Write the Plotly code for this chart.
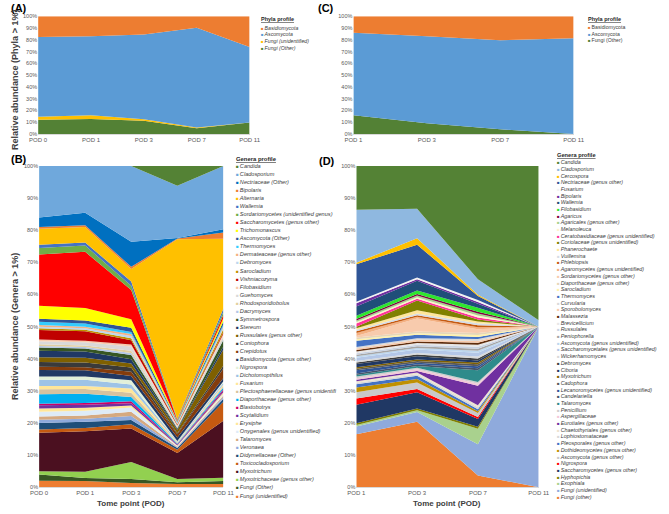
import plotly.graph_objects as go

W, H = 669, 514


def px_x(x):
    return x / W


def px_y(y):
    return 1 - y / H


# ---------------- panel A: phyla, POD 0 - POD 11
podA = ['POD 0', 'POD 1', 'POD 3', 'POD 7', 'POD 11']
phylaA_names = ['Basidiomycota', 'Ascomycota', 'Fungi (unidentified)', 'Fungi (Other)']
phylaA_colors = ['#ED7D31', '#5B9BD5', '#FFC000', '#538135']
phylaA_values = [
    [17.5, 17.0, 15.5, 9.7, 26.0],
    [67.8, 67.2, 72.1, 84.8, 64.3],
    [2.7, 3.0, 1.1, 0.6, 0.0],
    [12.0, 12.8, 11.3, 4.9, 9.7],
]

# ---------------- panel C: phyla, POD 1 - POD 11
podC = ['POD 1', 'POD 3', 'POD 7', 'POD 11']
phylaC_names = ['Basidiomycota', 'Ascomycota', 'Fungi (Other)']
phylaC_colors = ['#ED7D31', '#5B9BD5', '#538135']
phylaC_values = [
    [14.0, 17.0, 20.3, 18.6],
    [70.0, 74.0, 75.7, 81.4],
    [16.0, 9.0, 4.0, 0.0],
]

# ---------------- panel B: genera, POD 0 - POD 11 (legend order, top first)
genusB_names = [
    'Candida', 'Cladosporium', 'Nectriaceae (Other)', 'Bipolaris', 'Alternaria',
    'Wallemia', 'Sordariomycetes (unidentified genus)', 'Saccharomycetes (genus other)',
    'Trichomonascus', 'Ascomycota (Other)', 'Thermomyces', 'Dermateaceae (genus other)',
    'Debromyces', 'Sarocladium', 'Vishniacozyma', 'Filobasidium', 'Guehomyces',
    'Rhodosporidiobolus', 'Dacrymyces', 'Symmetrospora', 'Stereum',
    'Russulales (genus other)', 'Coniophora', 'Crepidotus', 'Basidiomycota (genus other)',
    'Nigrospora', 'Dichotomopthilus', 'Fusarium', 'Plectosphaerellaceae (genus unidentifi',
    'Diaporthaceae (genus other)', 'Blastobotrys', 'Scytalidium', 'Erysiphe',
    'Onygenales (genus unidentified)', 'Talaromyces', 'Veronaea', 'Didymellaceae (Other)',
    'Toxicocladosporium', 'Myxotrichum', 'Myxotrichaceae (genus other)', 'Fungi (Other)',
    'Fungi (unidentified)',
]
genusB_colors = [
    '#548235', '#6FA8DC', '#0070C0', '#ED7D31', '#FFC000',
    '#4472C4', '#70AD47', '#FF0000', '#FFFF00', '#2F5597',
    '#33CCFF', '#F4B183', '#BDD7EE', '#BF9000', '#C00000',
    '#F8CBAD', '#D9D9D9', '#E2CFA0', '#B4C7E7', '#375623',
    '#1F3864', '#7F6000', '#3A3A3A', '#843C0C', '#203864',
    '#E2F0D9', '#9DC3E6', '#FFE699', '#D6C29E', '#00B0F0',
    '#CC0066', '#7030A0', '#FFE699', '#DEEBF7', '#D5A980',
    '#8FAADC', '#1F4E79', '#C55A11', '#4B1020', '#92D050',
    '#385723', '#ED7D31',
]
genusB_values = [
    [0, 0, 0, 6, 0],
    [16, 15, 18, 16, 20],
    [3, 4, 6, 0.2, 1],
    [0.5, 0.5, 0.5, 0.2, 2],
    [5, 5, 3, 55, 22],
    [1, 1, 1, 0.2, 1],
    [2, 2, 1, 0.2, 1],
    [16, 18, 7, 0.2, 1],
    [4, 4, 2, 0.2, 1],
    [1, 1, 1, 0.2, 1],
    [1, 1, 0.5, 0.2, 0.5],
    [0.5, 0.5, 0.5, 0.2, 0.5],
    [0.5, 0.5, 0.5, 0.2, 0.5],
    [0.5, 0.5, 0.5, 0.2, 1],
    [3, 3, 1, 0.2, 0.5],
    [0.5, 0.5, 0.5, 0.2, 0.5],
    [1, 1, 1, 0.2, 0.5],
    [0.5, 0.5, 0.5, 0.2, 0.5],
    [0.5, 0.5, 0.5, 0.2, 0.5],
    [1, 1, 1, 0.3, 2],
    [2, 2, 1, 0.3, 1],
    [1.5, 1.5, 1, 1, 5],
    [1.5, 1.5, 1, 0.3, 1],
    [1, 1, 1, 1, 3],
    [2, 2, 1, 1, 1],
    [1, 1, 1, 0.2, 0.5],
    [2, 2, 1, 0.2, 0.5],
    [1, 1, 1, 0.2, 0.5],
    [1.5, 1.5, 1, 0.2, 0.5],
    [3, 3, 1, 0.2, 0.5],
    [0.5, 0.5, 0.5, 0.2, 0.5],
    [1, 1, 0.5, 0.2, 0.5],
    [1, 1, 0.5, 0.2, 0.5],
    [1.5, 1.5, 1, 0.2, 0.5],
    [1, 1, 1, 0.2, 0.5],
    [1, 1, 1, 0.2, 0.5],
    [2, 2, 1, 0.5, 1],
    [1, 1, 1, 1, 6],
    [12, 13, 8, 8, 18],
    [1, 2, 4, 1, 1],
    [2, 1, 1, 0.5, 1],
    [2, 2, 1, 1, 1],
]

# ---------------- panel D: genera, POD 1 - POD 11 (legend order, top first)
genusD_names = [
    'Candida', 'Cladosporium', 'Cercospora', 'Nectriaceae (genus other)', 'Fusarium',
    'Bipolaris', 'Wallemia', 'Filobasidium', 'Agaricus', 'Agaricales (genus other)',
    'Melanoleuca', 'Ceratobasidiaceae (genus unidentified)', 'Coriolaceae (genus unidentified)',
    'Phanerochaete', 'Vuillemina', 'Phlebiopsis', 'Agaromycetes (genus unidentified)',
    'Sordariomycetes (genus other)', 'Diaporthaceae (genus other)', 'Sarocladium',
    'Thermomyces', 'Curvularia', 'Sporobolomyces', 'Malassezia', 'Brevicellicium',
    'Russulales', 'Peniophorella', 'Ascomycota (genus unidentified)',
    'Saccharomycetales (genus unidentified)', 'Wickerhamomyces', 'Debromyces', 'Ciboria',
    'Myxotrichum', 'Cadophora', 'Lecanoromycetes (genus unidentified)', 'Candelariella',
    'Talaromyces', 'Penicillium', 'Aspergillaceae', 'Eurotiales (genus other)',
    'Chaetothyriales (genus other)', 'Lophiostomataceae', 'Pleosporales (genus other)',
    'Dothideomycetes (genus other)', 'Ascomycota (genus other)', 'Nigrospora',
    'Saccharomycetes (genus other)', 'Hyphopichia', 'Exophiala', 'Fungi (unidentified)',
    'Fungi (other)',
]
genusD_colors = [
    '#548235', '#8FB8E0', '#FFC000', '#2F5597', '#F2F2F2',
    '#7030A0', '#1F4E79', '#2EE62E', '#800040', '#A9D18E',
    '#FFF2CC', '#FF3399', '#808000', '#FFE699', '#D6DCE5',
    '#C55A11', '#F4B183', '#F8CBAD', '#E7D6B8', '#FFF2AA',
    '#4472C4', '#D9D9D9', '#F8CBAD', '#5E2C0C', '#E7E6E6',
    '#C9D3E3', '#A5A5A5', '#BDD7EE', '#B4C7E7', '#D9D9D9',
    '#404040', '#203864', '#7F6000', '#595959', '#2F5597',
    '#44546A', '#2E8B8B', '#D0CECE', '#F4C7D8', '#7030A0',
    '#EDE3D0', '#D9D9D9', '#4472C4', '#BF9000', '#C9C9C9',
    '#FF0000', '#203864', '#808000', '#A9D18E', '#8FAADC',
    '#ED7D31',
]
genusD_values = [
    [14, 13, 29, 48],
    [17, 9, 4, 2],
    [0.5, 2, 0.3, 0],
    [12, 10, 1, 0],
    [0.5, 0.5, 0.5, 0],
    [1, 0.5, 0.5, 0],
    [3, 3, 1, 0],
    [1, 1, 1, 0],
    [0.5, 0.5, 0.5, 0],
    [0.5, 0.5, 0.5, 0],
    [0.5, 0.5, 0.5, 0],
    [1, 0.5, 0.5, 0],
    [0.5, 3, 0.5, 0],
    [0.5, 1, 0.5, 0],
    [0.5, 0.5, 0.5, 0],
    [0.5, 0.5, 0.5, 0],
    [1, 0.5, 0.5, 0],
    [0.5, 4, 1, 0],
    [0.5, 0.5, 0.5, 0],
    [0.5, 0.5, 0.5, 0],
    [2, 1, 0.5, 0],
    [0.5, 0.5, 0.5, 0],
    [0.5, 0.5, 0.5, 0],
    [0.5, 0.5, 0.5, 0],
    [0.5, 0.5, 0.5, 0],
    [0.5, 0.5, 0.5, 0],
    [0.5, 0.5, 0.5, 0],
    [0.5, 0.5, 0.5, 0],
    [1, 1, 1, 0],
    [0.5, 0.5, 0.5, 0],
    [0.5, 0.5, 0.5, 0],
    [1, 1, 0.5, 0],
    [0.5, 0.5, 0.5, 0],
    [0.5, 0.5, 0.5, 0],
    [1, 0.5, 0.5, 0],
    [0.5, 0.5, 0.5, 0],
    [0.5, 0.5, 3, 0],
    [0.5, 0.5, 0.5, 0],
    [0.5, 0.5, 0.5, 0],
    [0.5, 0.5, 5, 0],
    [0.5, 0.5, 0.5, 0],
    [0.5, 0.5, 0.5, 0],
    [1, 1, 0.5, 0],
    [1.5, 1, 0.5, 0],
    [2, 2, 1, 0],
    [2, 1, 0.5, 0],
    [6, 5, 2, 0],
    [0.5, 0.5, 0.5, 0],
    [0.5, 0.5, 4, 0],
    [2.5, 3, 8, 50],
    [17, 20, 3, 0],
]

FONT = 'Liberation Sans, Arial, sans-serif'
GREY = '#595959'

fig = go.Figure()


def add_stack(pods, names, colors, values, group, xa, ya):
    # excel stacks the last legend entry at the bottom
    for name, col, vals in reversed(list(zip(names, colors, values))):
        fig.add_trace(go.Scatter(
            x=pods, y=vals, name=name, stackgroup=group, groupnorm='percent',
            mode='none', fillcolor=col, line=dict(width=0),
            xaxis=xa, yaxis=ya, showlegend=False, hoverinfo='name+y'))


add_stack(podA, phylaA_names, phylaA_colors, phylaA_values, 'A', 'x', 'y')
add_stack(podA, genusB_names, genusB_colors, genusB_values, 'B', 'x2', 'y2')
add_stack(podC, phylaC_names, phylaC_colors, phylaC_values, 'C', 'x3', 'y3')
add_stack(podC, genusD_names, genusD_colors, genusD_values, 'D', 'x4', 'y4')

annotations = []


def add_legend(x, ytitle, y0, dy, title, names, colors, size, italic):
    annotations.append(dict(
        text='<b><u>%s</u></b>' % title, x=px_x(x), y=px_y(ytitle),
        xref='paper', yref='paper', xanchor='left', yanchor='middle',
        showarrow=False, font=dict(size=size + 0.3, color='#262626', family=FONT)))
    for i, (name, col) in enumerate(zip(names, colors)):
        label = '<i>%s</i>' % name if italic else name
        annotations.append(dict(
            text='<span style="color:%s;font-size:%.1fpx">■</span>\u2009%s' % (col, size * 0.8, label),
            x=px_x(x), y=px_y(y0 + i * dy), xref='paper', yref='paper',
            xanchor='left', yanchor='middle', showarrow=False,
            font=dict(size=size, color='#404040', family=FONT)))


add_legend(258, 16, 25, 6.7, 'Phyla profile', phylaA_names, phylaA_colors, 5.2, True)
add_legend(595, 16, 24.5, 6.7, 'Phyla profile', phylaC_names, phylaC_colors, 5.2, False)
add_legend(232, 158, 165, 8.13, 'Genera profile', genusB_names, genusB_colors, 5.6, True)
add_legend(563, 154, 161, 6.77, 'Genera profile', genusD_names, genusD_colors, 5.4, True)

# panel letters
for txt, x, y in [('(A)', 0, 5.5), ('(C)', 316, 5.5), ('(B)', 0, 158), ('(D)', 317, 160)]:
    annotations.append(dict(text='<b>%s</b>' % txt, x=px_x(x), y=px_y(y), xref='paper',
                            yref='paper', xanchor='left', yanchor='middle', showarrow=False,
                            font=dict(size=11, color='black', family=FONT)))

# axis titles
for txt, x, y, ang, sz in [('Relative abundance (Phyla > 1%)', 6, 78, -90, 9),
                           ('Relative abundance (Genera > 1%)', 6, 327, -90, 9),
                           ('Tome point (POD)', 126, 506, 0, 8),
                           ('Tome point (POD)', 452, 506, 0, 8)]:
    annotations.append(dict(text='<b>%s</b>' % txt, x=px_x(x), y=px_y(y), xref='paper',
                            yref='paper', xanchor='center', yanchor='middle', showarrow=False,
                            textangle=ang, font=dict(size=sz, color='#404040', family=FONT)))

xcommon = dict(type='category', showgrid=False, zeroline=False, ticks='',
               showline=True, linecolor='#D9D9D9', linewidth=0.8,
               tickfont=dict(size=6, color=GREY, family=FONT))
ycommon = dict(range=[0, 100], dtick=10, ticksuffix='%', showgrid=False, zeroline=False,
               ticks='', showline=False, tickfont=dict(size=5.5, color=GREY, family=FONT))

fig.update_layout(
    width=W, height=H, margin=dict(l=0, r=0, t=0, b=0),
    paper_bgcolor='white', plot_bgcolor='white', showlegend=False,
    font=dict(family=FONT),
    xaxis=dict(xcommon, domain=[px_x(30), px_x(248)], anchor='y', range=[0, 4]),
    yaxis=dict(ycommon, domain=[px_y(132.5), px_y(13.5)], anchor='x'),
    xaxis2=dict(xcommon, domain=[px_x(31), px_x(221)], anchor='y2', range=[0, 4]),
    yaxis2=dict(ycommon, domain=[px_y(490), px_y(165)], anchor='x2'),
    xaxis3=dict(xcommon, domain=[px_x(355), px_x(582)], anchor='y3', range=[0, 3]),
    yaxis3=dict(ycommon, domain=[px_y(132.5), px_y(13.5)], anchor='x3'),
    xaxis4=dict(xcommon, domain=[px_x(358), px_x(546)], anchor='y4', range=[0, 3]),
    yaxis4=dict(ycommon, domain=[px_y(490), px_y(165)], anchor='x4'),
    annotations=annotations,
)

# drop the default page margin so the figure sits at the window's corner
fig.write_html('out.html', config={'displayModeBar': False},
               post_script="document.body.style.margin='0px';")
